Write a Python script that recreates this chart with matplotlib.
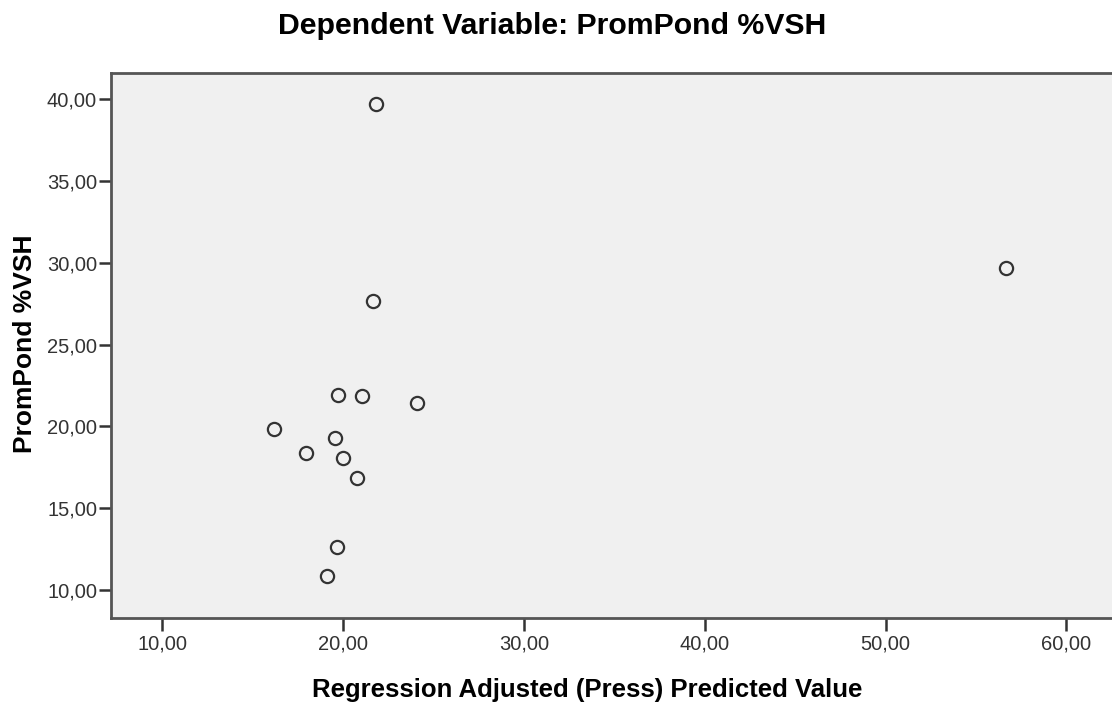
import matplotlib.pyplot as plt
from matplotlib.ticker import FuncFormatter

# values
predicted = [21.82, 56.63, 21.66, 19.72, 21.03, 24.07, 16.20, 19.56, 17.96, 20.02, 20.76, 19.65, 19.10]
prompond = [39.71, 29.69, 27.67, 21.93, 21.88, 21.45, 19.83, 19.32, 18.40, 18.07, 16.83, 12.65, 10.86]

x_ticks = [10, 20, 30, 40, 50, 60]
y_ticks = [10, 15, 20, 25, 30, 35, 40]

plt.rcParams['font.family'] = ['Liberation Sans', 'DejaVu Sans']

W, H = 1112, 704
fig = plt.figure(figsize=(W/100, H/100), dpi=100)
ax = fig.add_axes([111/W, 1 - 618/H, 1.003 - 111/W, (618 - 73)/H])
ax.set_facecolor('#f0f0f0')

ax.plot(predicted, prompond, 'o', markersize=9.5, markerfacecolor='none',
        markeredgecolor='#333333', markeredgewidth=1.6, linestyle='none')

ax.set_xlim(7.18, 62.7)
ax.set_ylim(8.29, 41.6)
ax.set_xticks(x_ticks)
ax.set_yticks(y_ticks)
fmt = FuncFormatter(lambda v, p: ('%.2f' % v).replace('.', ','))
ax.xaxis.set_major_formatter(fmt)
ax.yaxis.set_major_formatter(fmt)
ax.tick_params(direction='out', length=9, width=1.8, color='#333333',
               labelsize=14.5, labelcolor='#333333')
ax.tick_params(axis='x', pad=3)
ax.tick_params(axis='y', pad=1)

for s in ax.spines.values():
    s.set_color('#555555')
    s.set_linewidth(2)
ax.spines['right'].set_visible(False)

ax.set_xlabel('Regression Adjusted (Press) Predicted Value', fontsize=18.5,
              fontweight='bold', va='center')
ax.xaxis.set_label_coords(587/W, 1 - 690/H, transform=fig.transFigure)
ax.set_ylabel('PromPond %VSH', fontsize=19, fontweight='bold', va='center')
ax.yaxis.set_label_coords(25/W, 1 - 344/H, transform=fig.transFigure)
fig.text(552/W, 1 - 26/H, 'Dependent Variable: PromPond %VSH', fontsize=21.8,
         fontweight='bold', ha='center', va='center')

plt.savefig('out.png', dpi=100)
